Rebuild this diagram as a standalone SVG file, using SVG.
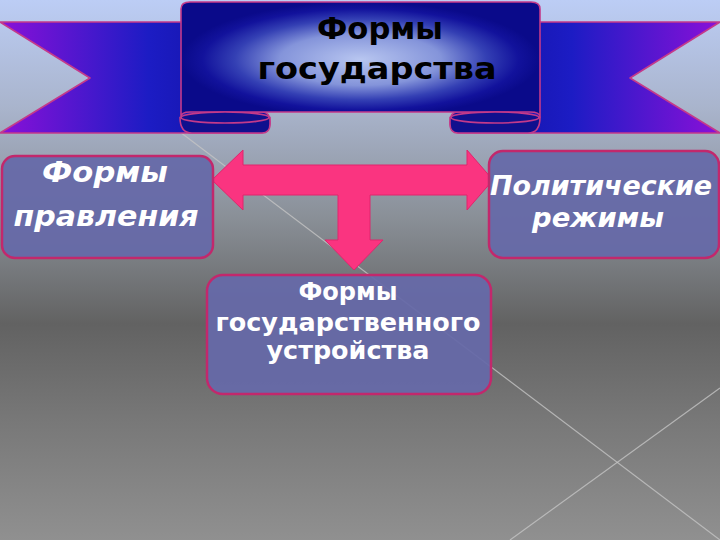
<svg xmlns="http://www.w3.org/2000/svg" width="720" height="540" viewBox="0 0 720 540">
  <defs>
    <linearGradient id="bg" x1="0" y1="0" x2="0" y2="1">
      <stop offset="0" stop-color="#bccdf5"/>
      <stop offset="0.2" stop-color="#a9b4cc"/>
      <stop offset="0.4" stop-color="#8a9098"/>
      <stop offset="0.6" stop-color="#626262"/>
      <stop offset="0.78" stop-color="#787878"/>
      <stop offset="1" stop-color="#909090"/>
    </linearGradient>
    <linearGradient id="armL" x1="0" y1="0" x2="270" y2="0" gradientUnits="userSpaceOnUse">
      <stop offset="0" stop-color="#8a10d8"/>
      <stop offset="0.35" stop-color="#4418cc"/>
      <stop offset="0.55" stop-color="#1c1cc4"/>
      <stop offset="1" stop-color="#10109a"/>
    </linearGradient>
    <linearGradient id="armR" x1="720" y1="0" x2="450" y2="0" gradientUnits="userSpaceOnUse">
      <stop offset="0" stop-color="#8a10d8"/>
      <stop offset="0.35" stop-color="#4418cc"/>
      <stop offset="0.55" stop-color="#1c1cc4"/>
      <stop offset="1" stop-color="#10109a"/>
    </linearGradient>
    <radialGradient id="panel" cx="0.5" cy="0.5" r="0.5">
      <stop offset="0" stop-color="#b8c6f0"/>
      <stop offset="0.45" stop-color="#8494da"/>
      <stop offset="0.7" stop-color="#3440b4"/>
      <stop offset="0.88" stop-color="#12129c"/>
      <stop offset="1" stop-color="#0a0a8a"/>
    </radialGradient>
    <style>
      .rib { stroke: #c43a8a; stroke-width: 1.6; stroke-linejoin: round; }
      .roll { fill: #10108e; stroke: #c43a8a; stroke-width: 1.6; }
      .box { fill: #6669a8; fill-opacity: 0.94; stroke: #c2286c; stroke-width: 2.5; }
      .wt { fill: #ffffff; font-family: "DejaVu Sans", "Noto Sans", sans-serif; font-weight: bold; text-anchor: middle; }
      .bt { fill: #000000; font-family: "DejaVu Sans", "Noto Sans", sans-serif; font-weight: bold; text-anchor: middle; }
      .bgline { stroke: #c4c4c4; stroke-width: 1.2; fill: none; opacity: 0.8; }
    </style>
  </defs>

  <rect x="0" y="0" width="720" height="540" fill="url(#bg)"/>
  <line class="bgline" x1="180" y1="132" x2="720" y2="540"/>
  <line class="bgline" x1="510" y1="540" x2="720" y2="388"/>

  <g id="title">
    <path class="rib" fill="url(#armL)" d="M0,22 H200 V112 H262 Q270,112 270,122 Q270,133 260,133 H0 L90,78 Z"/>
    <path class="rib" fill="url(#armR)" d="M720,22 H520 V112 H458 Q450,112 450,122 Q450,133 460,133 H720 L630,78 Z"/>
    <path class="roll" d="M180,117.5 Q180,133 192,133 H262 Q270,133 270,124 V117.5 Z"/>
    <path class="roll" d="M540,117.5 Q540,133 528,133 H458 Q450,133 450,124 V117.5 Z"/>
    <path class="rib" fill="url(#panel)" d="M181,117 V9 Q181,2 190,2 H531 Q540,2 540,9 V117 Q540,112 530,112 H190 Q181,112 181,117 Z"/>
    <ellipse class="roll" cx="225" cy="117.5" rx="44" ry="5.5"/>
    <ellipse class="roll" cx="495" cy="117.5" rx="44" ry="5.5"/>
    <text class="bt" x="380" y="39" font-size="31" textLength="126" lengthAdjust="spacingAndGlyphs">Формы</text>
    <text class="bt" x="377" y="79" font-size="31" textLength="239" lengthAdjust="spacingAndGlyphs">государства</text>
  </g>

  <g id="connectors">
    <path fill="#fa3480" stroke="#e0256c" stroke-width="1" stroke-linejoin="round" d="M212,180 L243,150 L243,165 L467,165 L467,150 L493,180 L467,210 L467,195 L370,195 L370,240 L383,240 L354,270 L325,240 L338,240 L338,195 L243,195 L243,210 Z"/>
  </g>

  <g id="node-pravlenie">
    <rect class="box" x="2" y="156" width="211" height="102" rx="13"/>
    <text class="wt" x="105" y="182" font-size="28" font-style="italic" textLength="126" lengthAdjust="spacingAndGlyphs">Формы</text>
    <text class="wt" x="106" y="226" font-size="28" font-style="italic" textLength="185" lengthAdjust="spacingAndGlyphs">правления</text>
  </g>

  <g id="node-rezhimy">
    <rect class="box" x="489" y="151" width="230" height="107" rx="14"/>
    <text class="wt" x="601" y="195" font-size="27" font-style="italic" textLength="222" lengthAdjust="spacingAndGlyphs">Политические</text>
    <text class="wt" x="598" y="227" font-size="27" font-style="italic" textLength="132" lengthAdjust="spacingAndGlyphs">режимы</text>
  </g>

  <g id="node-ustroystvo">
    <rect class="box" x="207" y="275" width="284" height="119" rx="16"/>
    <text class="wt" x="348" y="300" font-size="24" textLength="99" lengthAdjust="spacingAndGlyphs">Формы</text>
    <text class="wt" x="348" y="331" font-size="24" textLength="265" lengthAdjust="spacingAndGlyphs">государственного</text>
    <text class="wt" x="348" y="359" font-size="24" textLength="163" lengthAdjust="spacingAndGlyphs">устройства</text>
  </g>
</svg>
